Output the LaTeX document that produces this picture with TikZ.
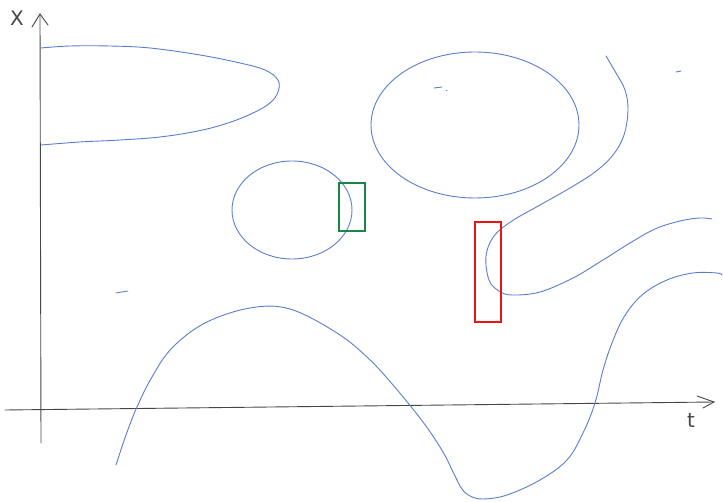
\documentclass[tikz,border=0pt]{standalone}
\usepackage{fontspec}
\setmainfont{DejaVu Sans}
\definecolor{curveblue}{RGB}{90,125,205}
\definecolor{axisgray}{RGB}{70,70,70}
\definecolor{boxgreen}{RGB}{24,135,70}
\definecolor{boxred}{RGB}{235,20,20}
\begin{document}
\begin{tikzpicture}[x=1pt,y=-1pt,
  curve/.style={draw=curveblue,line width=0.9pt,line cap=round,line join=round},
  axis/.style={draw=axisgray,line width=0.9pt,line cap=round},
  box/.style={line width=2.2pt},
  lbl/.style={text=axisgray,font=\fontsize{20}{20}\selectfont,inner sep=0pt}]
\useasboundingbox (0,0) rectangle (723,502);
% axes
\coordinate (xb) at (41,443);
\coordinate (xt) at (40,14);
\coordinate (tl) at (5,410);
\coordinate (tr) at (714,402);
\draw[axis] (xb) -- (xt);
\draw[axis] (32,27) -- (xt) -- (48,25);
\draw[axis] (tl) -- (tr);
\draw[axis] (697,396) -- (tr) -- (703,408);
\node[lbl] (xlab) at (17,18) {X};
\node[lbl] (tlab) at (691,420) {t};
% top-left tongue
\draw[curve] plot[smooth,tension=0.6] coordinates {(41,48) (70,46) (110,46) (150,48) (200,55) (240,63) (265,70) (278,80) (278,92) (270,103) (253,113) (228,123) (198,131) (160,137) (120,140) (80,142) (41,145)};
% ellipse
\draw[curve] (475,125) ellipse [x radius=104, y radius=73];
% circle
\draw[curve] (292,210) ellipse [x radius=60, y radius=49];
% right S-curve
\draw[curve] plot[smooth,tension=0.6] coordinates {(606,56) (616,73) (625,90) (628,110) (624,135) (613,155) (595,172) (570,188) (540,205) (512,221) (494,236) (486,256) (489,280) (499,291) (512,295) (540,292) (573,278) (603,260) (630,243) (655,229) (680,221) (700,218) (712,219)};
% bottom wave
\draw[curve] plot[smooth,tension=0.6] coordinates {(116,465) (126,435) (137,407) (152,377) (172,348) (205,323) (250,308) (290,309) (337,333) (368,358) (393,385) (423,422) (443,452) (455,476) (462,489) (470,496) (483,499) (507,495) (540,480) (567,460) (583,433) (595,403) (603,370) (612,343) (624,317) (642,295) (667,280) (693,273) (717,273) (722,275)};
% small strokes
\draw[curve] (116,293) -- (128,291);
\draw[curve] (434,88) -- (442,87);
\draw[curve] (446,90) -- (447,90);
\draw[curve] (676,72) -- (681,71);
% boxes
\draw[box,draw=boxgreen] (339,183) rectangle (365,231);
\draw[box,draw=boxred] (475,222) rectangle (501,322);
\end{tikzpicture}
\end{document}
